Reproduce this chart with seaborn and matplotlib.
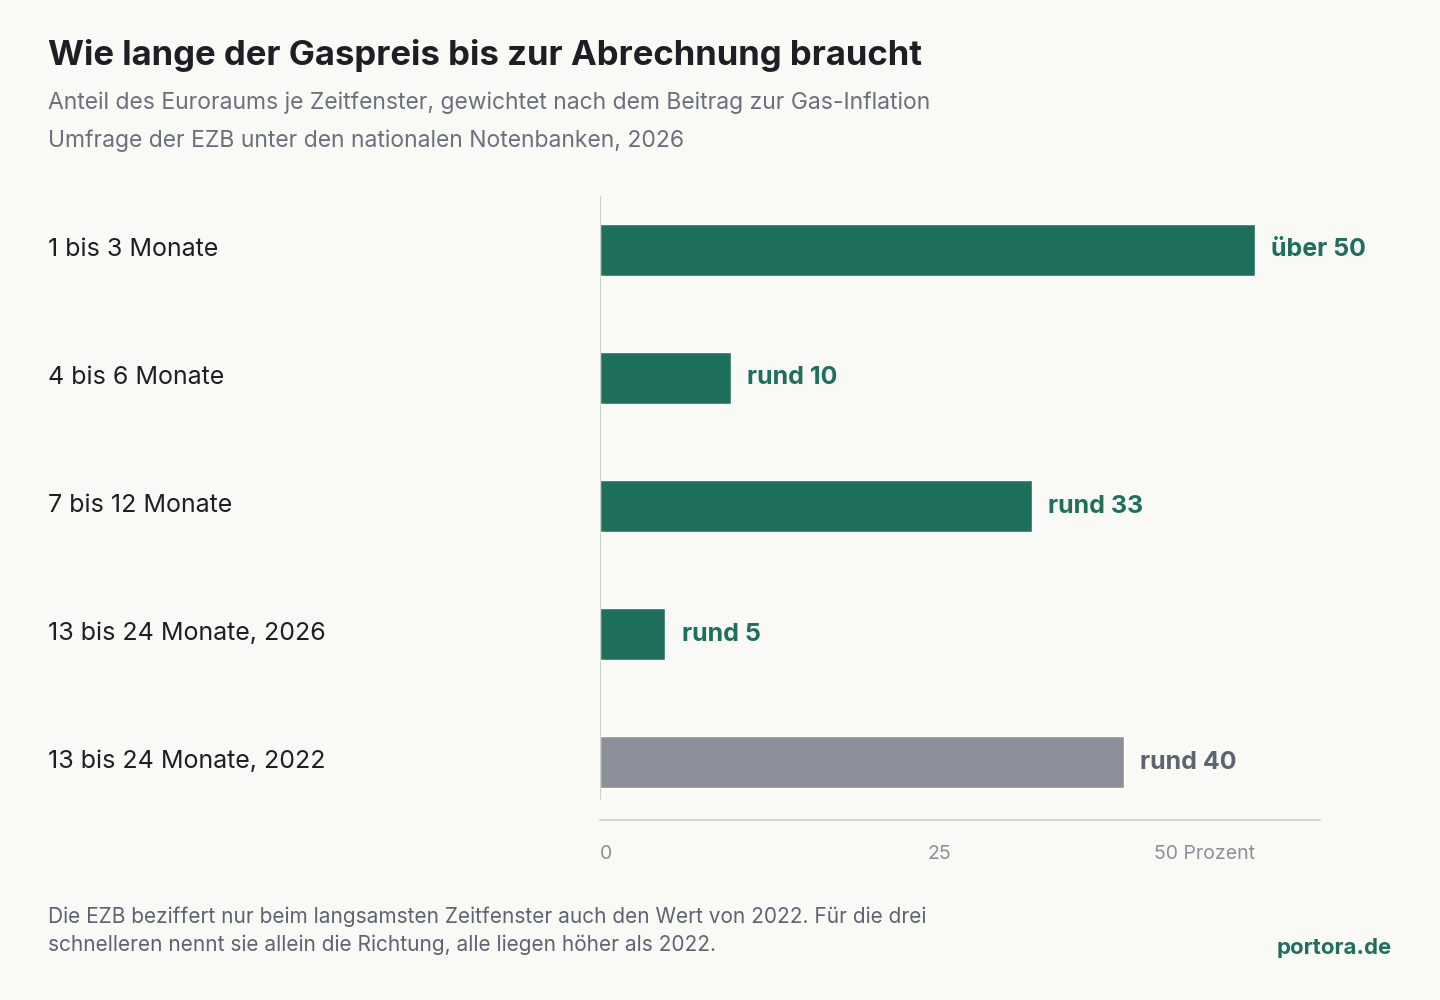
import matplotlib
matplotlib.use("Agg")
import matplotlib.pyplot as plt
import seaborn as sns
import pandas as pd

categories = ["1 bis 3 Monate", "4 bis 6 Monate", "7 bis 12 Monate",
              "13 bis 24 Monate, 2026", "13 bis 24 Monate, 2022"]
values = [50, 10, 33, 5, 40]
value_labels = ["über 50", "rund 10", "rund 33", "rund 5", "rund 40"]
tick_values = [0, 25, 50]
tick_labels = ["0", "25", "50 Prozent"]

GREEN = "#1f6f5d"
GRAY = "#8b8f99"
BG = "#f9f9f6"
colors = [GREEN, GREEN, GREEN, GREEN, GRAY]
label_colors = [GREEN, GREEN, GREEN, GREEN, "#5d6370"]

sns.set_theme(style="white")
plt.rcParams["font.family"] = ["Inter", "DejaVu Sans"]

df = pd.DataFrame({"cat": categories, "val": values})
fig = plt.figure(figsize=(14.4, 10), dpi=100, facecolor=BG)
ax = fig.add_axes([600/1440, 0.18, 720/1440, 0.624])
ax.set_facecolor(BG)
sns.barplot(data=df, y="cat", x="val", hue="cat", palette=colors, legend=False,
            width=0.406, orient="h", ax=ax, saturation=1)
ax.set_xlim(0, 55)
ax.set_ylim(4.45, -0.42)
for s in ax.spines.values():
    s.set_visible(False)
ax.axhline(4.45, color="#d4d4cf", lw=1.5, clip_on=False)
ax.axvline(0, ymin=(4.45-4.29)/4.87, ymax=1, color="#cfcfca", lw=1.5)
ax.set_xlabel(""); ax.set_ylabel("")
ax.set_yticks([])
ax.set_xticks(tick_values)
ax.set_xticklabels(tick_labels, fontsize=14, color="#8a8f99")
ax.tick_params(axis="x", length=0, pad=18)
has = ["left", "left", "right"]
for t, h in zip(ax.get_xticklabels(), has):
    t.set_ha(h)
ax.get_xticklabels()[1].set_x(26)
for i, (v, lab) in enumerate(zip(values, value_labels)):
    ax.text(v + 1.25, i, lab, va="center", ha="left", fontsize=18,
            fontweight="bold", color=label_colors[i])
for i, c in enumerate(categories):
    fig.text(48/1440, 1 - (250 + 128*i)/1000, c, va="center", ha="left",
             fontsize=18, color="#1d1f24")

fig.text(48/1440, 1-55/1000, "Wie lange der Gaspreis bis zur Abrechnung braucht",
         fontsize=25, fontweight="bold", color="#1d1f24", va="center")
fig.text(48/1440, 1-103/1000, "Anteil des Euroraums je Zeitfenster, gewichtet nach dem Beitrag zur Gas-Inflation",
         fontsize=16.5, color="#6a707c", va="center")
fig.text(48/1440, 1-141/1000, "Umfrage der EZB unter den nationalen Notenbanken, 2026",
         fontsize=16.5, color="#6a707c", va="center")
fig.text(48/1440, 1-931/1000,
         "Die EZB beziffert nur beim langsamsten Zeitfenster auch den Wert von 2022. Für die drei\n"
         "schnelleren nennt sie allein die Richtung, alle liegen höher als 2022.",
         fontsize=15, color="#5d6370", va="center", linespacing=1.45)
fig.text(1392/1440, 1-948/1000, "portora.de", fontsize=16, fontweight="bold",
         color=GREEN, ha="right", va="center")
fig.savefig("out.png", dpi=100, facecolor=BG)
